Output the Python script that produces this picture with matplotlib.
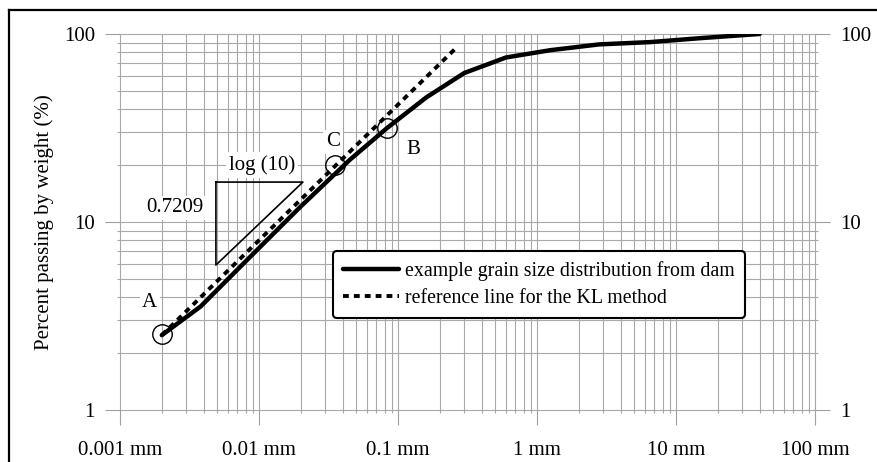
import matplotlib.pyplot as plt
from matplotlib.lines import Line2D
from matplotlib.ticker import FixedLocator, FixedFormatter, LogLocator, NullFormatter

plt.rcParams['font.family'] = ['Liberation Serif', 'DejaVu Serif']

# grain size distribution (mm, % passing)
size_mm = [0.002, 0.0038, 0.0086, 0.02, 0.045, 0.083, 0.16, 0.3, 0.6, 1.25, 2.8, 6.5, 15, 40]
passing = [2.5, 3.55, 6.5, 12.1, 21.4, 31.5, 46, 62, 75, 82, 88, 90.5, 95, 100]

# KL reference line, slope 0.7209 in log-log
ref_mm = [0.002, 0.265]
ref_pass = [2.5, 85]

# marked points
pt_names = ['A', 'B', 'C']
pt_mm = [0.002, 0.083, 0.0355]
pt_pass = [2.55, 31.5, 20]

xticks = [0.001, 0.01, 0.1, 1, 10, 100]
xlabels = ['0.001 mm', '0.01 mm', '0.1 mm', '1 mm', '10 mm', '100 mm']
yticks = [1, 10, 100]
ylabels = ['1', '10', '100']

fig = plt.figure(figsize=(8.77, 4.62), dpi=100)
ax = fig.add_axes([0.1368, 0.1126, 0.7925, 0.8139])
ax.set_xscale('log')
ax.set_yscale('log')
ax.set_xlim(0.001, 100)
ax.set_ylim(1, 100)

ax.plot(size_mm, passing, color='black', lw=3.2, solid_capstyle='round',
        solid_joinstyle='round', label='example grain size distribution from dam', zorder=4)
ax.plot(ref_mm, ref_pass, color='black', lw=2.8, dashes=(1.5, 1.3),
        label='reference line for the KL method', zorder=4)
ax.plot(pt_mm, pt_pass, 'o', ms=14, mfc='none', mec='black', mew=1.0, zorder=5)

txt = dict(fontsize=15, ha='center', va='center', zorder=3,
           bbox=dict(facecolor='white', edgecolor='none', pad=2))
ax.text(0.00164, 3.71, 'A', **txt)
ax.text(0.128, 24.2, 'B', **txt)
ax.text(0.034, 26.7, 'C', **txt)
ax.text(0.0105, 20.1, 'log (10)', **txt)
ax.text(0.00249, 11.9, '0.7209', **txt)

# slope triangle
ax.plot([0.0049, 0.0207, 0.0049, 0.0049], [16.3, 16.3, 5.9, 16.3],
        color='black', lw=1.2, zorder=3)

ax.grid(which='both', color='#a8a8a8', lw=0.8, zorder=0)
ax.set_axisbelow(True)
for s in ax.spines.values():
    s.set_visible(False)

ax.xaxis.set_major_locator(FixedLocator(xticks))
ax.xaxis.set_major_formatter(FixedFormatter(xlabels))
ax.xaxis.set_minor_locator(LogLocator(base=10, subs=range(2, 10)))
ax.xaxis.set_minor_formatter(NullFormatter())
ax.yaxis.set_major_locator(FixedLocator(yticks))
ax.yaxis.set_major_formatter(FixedFormatter(ylabels))
ax.yaxis.set_minor_locator(LogLocator(base=10, subs=range(2, 10)))
ax.yaxis.set_minor_formatter(NullFormatter())

ax.tick_params(which='major', length=11, width=0.8, color='#a0a0a0', labelsize=15)
ax.tick_params(which='minor', length=2.5, width=0.8, color='#a8a8a8')
ax.tick_params(axis='y', which='both', left=True, right=True, labelleft=True,
               labelright=True, pad=7)
ax.tick_params(axis='x', which='major', pad=11)

# keep the edge gridlines (1, 100, 0.001 mm, 100 mm) from being clipped
for axis in (ax.xaxis, ax.yaxis):
    for t in axis.get_major_ticks() + axis.get_minor_ticks():
        t.gridline.set_clip_on(False)

ax.set_ylabel('Percent passing by weight (%)', fontsize=15, labelpad=7)

leg = ax.legend(loc='upper left', bbox_to_anchor=(0.307, 0.422), fontsize=14.3,
                frameon=True, fancybox=True, handlelength=2.8, handletextpad=0.3,
                borderpad=0.5, labelspacing=0.38, borderaxespad=0)
leg.get_frame().set_edgecolor('black')
leg.get_frame().set_linewidth(1.5)
leg.get_frame().set_alpha(1)

# frame lines along the top and left of the figure
fig.add_artist(Line2D([9 / 877, 9 / 877], [0, 1 - 10 / 462], color='black', lw=1.6))
fig.add_artist(Line2D([9 / 877, 1], [1 - 10 / 462, 1 - 10 / 462], color='black', lw=1.6))

fig.savefig('out.png', dpi=100)
